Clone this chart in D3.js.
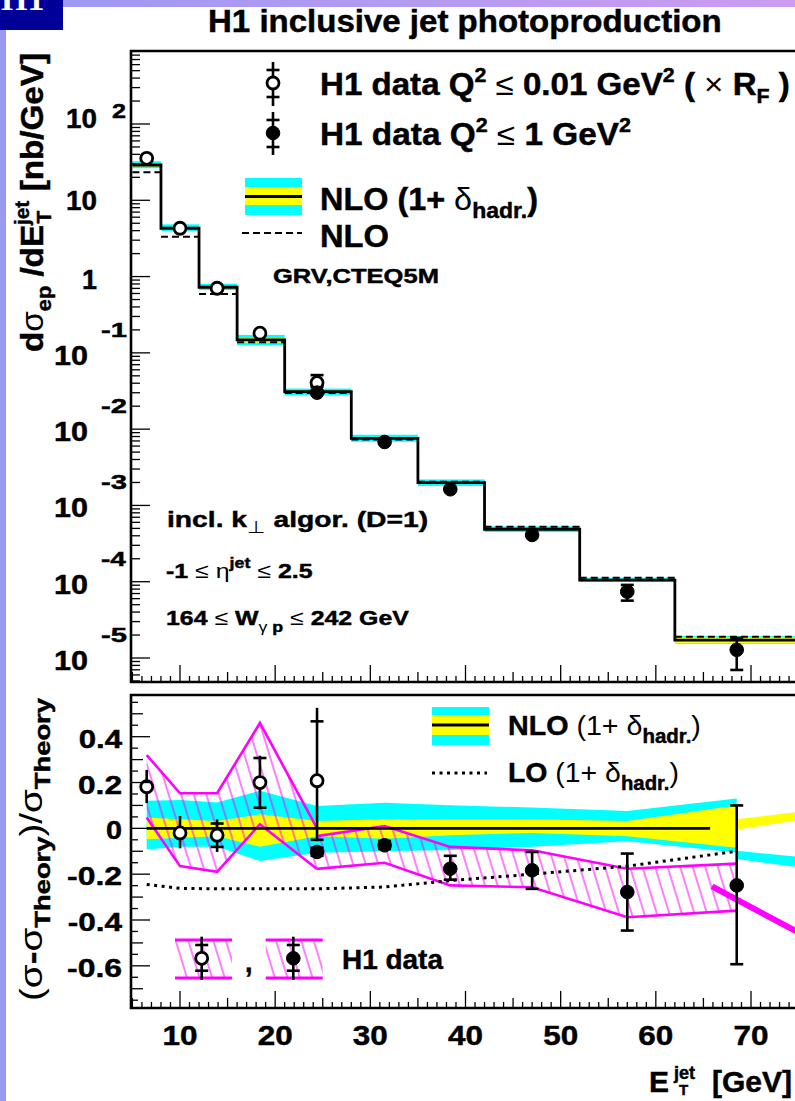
<!DOCTYPE html>
<html>
<head>
<meta charset="utf-8">
<script src="https://cdnjs.cloudflare.com/ajax/libs/d3/7.8.5/d3.min.js"></script>
<style>
  body { margin: 0; background: #fff; }
  text { font-family: "Liberation Sans", Arial, Helvetica, sans-serif; font-weight: bold; fill: #000;
         stroke: #000; stroke-width: 0.45px; }
  tspan.thin { stroke-width: 0; }
</style>
</head>
<body>
<svg id="chart" width="795" height="1101"></svg>
<script>
// ---------- data ----------
const binEdges  = [5, 8, 12, 16, 21, 28, 35, 42, 52, 62, 75];
const nloHadr   = [29.0, 4.30, 0.724, 0.1476, 0.0310, 0.00759, 0.00199, 4.87e-4, 1.05e-4, 1.72e-5];
const nloParton = [23.3, 3.33, 0.591, 0.1377, 0.0298, 0.00733, 0.00205, 5.27e-4, 1.13e-4, 1.90e-5];

// Q2 <= 0.01 (open) and Q2 <= 1 (full) cross sections
const openEt      = [6.5, 10.0, 13.9, 18.4, 24.4];
const openXsec    = [35.5, 4.30, 0.703, 0.181, 0.0407];
const openXsecHi  = [null, null, null, null, 0.0511];
const openXsecLo  = [null, null, null, null, 0.0360];
const fullEt      = [24.4, 31.5, 38.4, 47.0, 57.0, 68.5];
const fullXsec    = [0.0301, 0.00679, 0.00163, 4.10e-4, 7.41e-5, 1.28e-5];
const fullXsecHi  = [null, null, null, null, 9.08e-5, 1.83e-5];
const fullXsecLo  = [null, null, null, null, 5.65e-5, 6.97e-6];

// ratio (sigma - theory)/theory
const openRatio  = [0.182, -0.02, -0.03, 0.20, 0.208];
const openTotHi  = [0.255, 0.054, 0.039, 0.317, 0.526];
const openTotLo  = [0.11, -0.087, -0.103, 0.083, -0.056];
const openStatHi = [null, null, 0.021, 0.307, 0.467];
const openStatLo = [null, null, -0.081, 0.09, -0.05];
const fullRatio  = [-0.103, -0.074, -0.176, -0.183, -0.278, -0.249];
const fullTotHi  = [-0.085, -0.055, -0.12, -0.103, -0.11, 0.10];
const fullTotLo  = [-0.12, -0.09, -0.224, -0.264, -0.446, -0.593];

// theory bands, one value per bin (at the data point E_T)
const bandEt  = [6.5, 10.0, 13.9, 18.4, 24.4, 31.5, 38.4, 47.0, 57.0, 68.5];
const scaleHi = [0.12, 0.124, 0.113, 0.164, 0.098, 0.112, 0.101, 0.091, 0.076, 0.13];
const scaleLo = [-0.092, -0.08, -0.08, -0.143, -0.107, -0.10, -0.095, -0.08, -0.056, -0.105];
const hadrHi  = [0.047, 0.04, 0.032, 0.061, 0.032, 0.04, 0.04, 0.04, 0.032, 0.10];
const hadrLo  = [-0.048, -0.041, -0.034, -0.08, -0.034, -0.045, -0.03, -0.02, -0.034, -0.085];
const loRatio = [-0.245, -0.262, -0.264, -0.264, -0.264, -0.256, -0.228, -0.20, -0.165, -0.10];

// hatched data bands
const sysOpenUp = [0.32, 0.153, 0.153, 0.46, 0.0];
const sysOpenDn = [0.047, -0.165, -0.19, 0.018, -0.177];
const sysFullUp = [-0.034, 0.01, -0.081, -0.096, -0.176, -0.154];
const sysFullDn = [-0.177, -0.15, -0.249, -0.257, -0.388, -0.359];

// stray pieces right of the last point
const tailEt      = [68.5, 75];
const hadrTailHi  = [0.04, 0.072];
const hadrTailLo  = [-0.005, 0.035];
const scaleTailHi = [-0.098, -0.124];
const scaleTailLo = [-0.134, -0.170];
const sysTailEt   = [65.9, 75];
const sysTail     = [-0.253, -0.455];
const zeroLineEt  = [6.5, 65.7];

const topDecades = [2, 1, 0, -1, -2, -3, -4, -5];
const ratioTicks = [0.4, 0.2, 0, -0.2, -0.4, -0.6];
const xTicks     = [10, 20, 30, 40, 50, 60, 70];

// ---------- scales ----------
let svg = d3.select("#chart");
let x = d3.scaleLinear().domain([10, 70]).range([180, 751]);
let yTop = d3.scaleLog().domain([1e-5, 1e2]).range([658, 124]);
let yRat = d3.scaleLinear().domain([-0.4, 0.4]).range([920, 736.7]);

let topBox = {x0: 131, x1: 850, y0: 51, y1: 682};
let ratBox = {x0: 131, x1: 850, y0: 695, y1: 1008};

const CYAN = "#00ffff", YELLOW = "#ffff00", MAG = "#ff00ff";

// ---------- helpers ----------
function richText(g, xx, yy, size, parts) {
  let t = g.append("text").attr("x", xx).attr("y", yy).attr("font-size", size);
  parts.forEach(p => {
    let s = t.append("tspan").text(p.t);
    if (p.fs) s.attr("font-size", p.fs);
    if (p.w) s.attr("font-weight", p.w).attr("class", "thin");
    if (p.dy) s.attr("dy", p.dy);
    if (p.dx) s.attr("dx", p.dx);
  });
  return t;
}

// squeeze/stretch a text horizontally so it covers `width` px, keeping x0 fixed
function fit(t, x0, width) {
  let w = t.node().getBBox().width;
  t.attr("transform", "translate(" + x0 + ",0) scale(" + (width / w) + ",1) translate(" + (-x0) + ",0)");
  return t;
}

function drawPoints(g, pts, ys, open) {
  let sel = g.selectAll(null).data(pts).enter().append("g");
  sel.filter(d => d.hi != null).append("line")
    .attr("x1", d => x(d.x)).attr("x2", d => x(d.x))
    .attr("y1", d => ys(d.hi)).attr("y2", d => ys(d.lo))
    .attr("stroke", "#000").attr("stroke-width", 2.6);
  ["chi", "clo"].forEach(k => {
    sel.filter(d => d[k] != null).append("line")
      .attr("x1", d => x(d.x) - 6.5).attr("x2", d => x(d.x) + 6.5)
      .attr("y1", d => ys(d[k])).attr("y2", d => ys(d[k]))
      .attr("stroke", "#000").attr("stroke-width", 2.6);
  });
  sel.append("circle")
    .attr("cx", d => x(d.x)).attr("cy", d => ys(d.y))
    .attr("r", open ? 6 : 6.8)
    .attr("fill", open ? "#fff" : "#000")
    .attr("stroke", "#000").attr("stroke-width", open ? 2.8 : 1);
}

// ---------- page decoration ----------
let defs = svg.append("defs");
let grad = defs.append("linearGradient").attr("id", "topband");
grad.append("stop").attr("offset", "0").attr("stop-color", "#9a9af0");
grad.append("stop").attr("offset", "1").attr("stop-color", "#cc9cf0");

let hatch = defs.append("pattern").attr("id", "hatch")
  .attr("patternUnits", "userSpaceOnUse").attr("width", 12).attr("height", 12)
  .attr("patternTransform", "rotate(-17)");
hatch.append("line").attr("x1", 1).attr("y1", 0).attr("x2", 1).attr("y2", 12)
  .attr("stroke", MAG).attr("stroke-width", 1);

defs.append("clipPath").attr("id", "clipTop").append("rect")
  .attr("x", topBox.x0).attr("y", topBox.y0)
  .attr("width", topBox.x1 - topBox.x0).attr("height", topBox.y1 - topBox.y0);
defs.append("clipPath").attr("id", "clipRat").append("rect")
  .attr("x", ratBox.x0).attr("y", ratBox.y0)
  .attr("width", ratBox.x1 - ratBox.x0).attr("height", ratBox.y1 - ratBox.y0);

svg.append("rect").attr("x", 0).attr("y", 0).attr("width", 795).attr("height", 7).attr("fill", "url(#topband)");
svg.append("rect").attr("x", 0).attr("y", 0).attr("width", 6).attr("height", 1101).attr("fill", "#9999ee");
svg.append("rect").attr("x", 0).attr("y", 0).attr("width", 63).attr("height", 30).attr("fill", "#000099");
// bottom of the H1 logo lettering (the top is cut off in the original)
svg.append("text").attr("x", 1).attr("y", 10).attr("font-size", 34)
  .style("font-family", "'Liberation Serif', serif").style("fill", "#fff").style("stroke", "none").text("H1");

// title
fit(svg.append("text").attr("x", 208).attr("y", 32).attr("font-size", 31)
  .text("H1 inclusive jet photoproduction"), 208, 514);

// ---------- top panel ----------
let gTop = svg.append("g").attr("clip-path", "url(#clipTop)");
let bins = nloHadr.map((v, i) => ({
  x0: binEdges[i], x1: binEdges[i + 1], v: v, p: nloParton[i],
  shi: scaleHi[i], slo: scaleLo[i], hhi: hadrHi[i], hlo: hadrLo[i]
}));

gTop.selectAll(".cyanbin").data(bins).enter().append("rect")
  .attr("x", d => x(d.x0)).attr("width", d => x(d.x1) - x(d.x0))
  .attr("y", d => yTop(d.v * (1 + d.shi)))
  .attr("height", d => yTop(d.v * (1 + d.slo)) - yTop(d.v * (1 + d.shi)))
  .attr("fill", CYAN);
gTop.selectAll(".yellowbin").data(bins).enter().append("rect")
  .attr("x", d => x(d.x0)).attr("width", d => x(d.x1) - x(d.x0))
  .attr("y", d => yTop(d.v * (1 + d.hhi)))
  .attr("height", d => yTop(d.v * (1 + d.hlo)) - yTop(d.v * (1 + d.hhi)))
  .attr("fill", YELLOW);

let stepPts = [];
bins.forEach(d => { stepPts.push([x(d.x0), yTop(d.v)]); stepPts.push([x(d.x1), yTop(d.v)]); });
gTop.append("path").attr("d", d3.line()(stepPts))
  .attr("fill", "none").attr("stroke", "#000").attr("stroke-width", 2.8);

gTop.selectAll(".dashbin").data(bins).enter().append("line")
  .attr("x1", d => x(d.x0)).attr("x2", d => x(d.x1))
  .attr("y1", d => yTop(d.p)).attr("y2", d => yTop(d.p))
  .attr("stroke", "#000").attr("stroke-width", 2).attr("stroke-dasharray", "7,4");

drawPoints(gTop, openEt.map((e, i) => ({x: e, y: openXsec[i], hi: openXsecHi[i], lo: openXsecLo[i],
  chi: openXsecHi[i], clo: openXsecLo[i]})), yTop, true);
drawPoints(gTop, fullEt.map((e, i) => ({x: e, y: fullXsec[i], hi: fullXsecHi[i], lo: fullXsecLo[i],
  chi: fullXsecHi[i], clo: fullXsecLo[i]})), yTop, false);

// top axes ticks
let axTop = svg.append("g");
let yMin = yTop.invert(topBox.y1), yMax = yTop.invert(topBox.y0);
d3.range(-6, 3).forEach(dec => {
  d3.range(1, 10).forEach(k => {
    let v = k * Math.pow(10, dec);
    if (v < yMin || v > yMax) return;
    axTop.append("line").attr("x1", topBox.x0).attr("x2", topBox.x0 + (k == 1 ? 19 : 9))
      .attr("y1", yTop(v)).attr("y2", yTop(v)).attr("stroke", "#000").attr("stroke-width", 1.3);
  });
});
d3.range(5, 81).forEach(e => {
  let len = e % 10 == 0 ? 17 : (e % 5 == 0 ? 10 : 6);
  [topBox.y1, ratBox.y1].forEach(yb => {
    svg.append("line").attr("x1", x(e)).attr("x2", x(e)).attr("y1", yb).attr("y2", yb - len)
      .attr("stroke", "#000").attr("stroke-width", 1.3);
  });
});

// top y labels
topDecades.forEach(dec => {
  let yt = yTop(Math.pow(10, dec));
  if (dec == 2) {
    fit(axTop.append("text").attr("x", 97).attr("y", yt + 4).attr("font-size", 27)
      .attr("text-anchor", "end").text("10"), 97, 31);
    fit(axTop.append("text").attr("x", 112).attr("y", yt - 6).attr("font-size", 20).text("2"), 112, 14);
  } else if (dec == 1) {
    fit(axTop.append("text").attr("x", 97).attr("y", yt + 10).attr("font-size", 27)
      .attr("text-anchor", "end").text("10"), 97, 31);
  } else if (dec == 0) {
    fit(axTop.append("text").attr("x", 97).attr("y", yt + 12).attr("font-size", 27)
      .attr("text-anchor", "end").text("1"), 97, 15);
  } else {
    fit(axTop.append("text").attr("x", 88).attr("y", yt + 12).attr("font-size", 27)
      .attr("text-anchor", "end").text("10"), 88, 34);
    fit(axTop.append("text").attr("x", 101).attr("y", yt - 16).attr("font-size", 20)
      .text(String(dec)), 101, 26);
  }
});

// top y title (rotated)
let yt1 = svg.append("g").attr("transform", "translate(43,0) rotate(-90)");
fit(richText(yt1, -352, 0, 32, [
  {t: "d"}, {t: "σ", w: "normal"}, {t: "ep", fs: 21, dy: 8}, {t: " /dE", dy: -8},
  {t: "jet", fs: 20, dy: -14}, {t: "T", fs: 20, dx: -22, dy: 22}, {t: " [nb/GeV]", dx: 10, dy: -8}
]), -352, 299);

// top legend
let lg = svg.append("g");
drawPoints(lg, [{x: x.invert(273), y: 83, hi: 62, lo: 106, chi: 70, clo: 97}], d => d, true);
drawPoints(lg, [{x: x.invert(273), y: 133, hi: 112, lo: 155, chi: 120, clo: 147}], d => d, false);
fit(richText(lg, 320, 95, 31, [
  {t: "H1 data Q"}, {t: "2", fs: 20, dy: -13}, {t: " ≤ ", w: "normal", dy: 13}, {t: "0.01 GeV"},
  {t: "2", fs: 20, dy: -13}, {t: " ( ", dy: 13}, {t: "×", w: "normal"}, {t: " R"},
  {t: "F", fs: 20, dy: 8}, {t: " )", dy: -8}
]), 320, 470);
fit(richText(lg, 320, 145, 31, [
  {t: "H1 data Q"}, {t: "2", fs: 20, dy: -13}, {t: " ≤ ", w: "normal", dy: 13}, {t: "1 GeV"},
  {t: "2", fs: 20, dy: -13}
]), 320, 311);
lg.append("rect").attr("x", 245).attr("y", 178).attr("width", 57).attr("height", 37).attr("fill", CYAN);
lg.append("rect").attr("x", 245).attr("y", 187).attr("width", 57).attr("height", 18).attr("fill", YELLOW);
lg.append("line").attr("x1", 245).attr("x2", 302).attr("y1", 196.5).attr("y2", 196.5)
  .attr("stroke", "#000").attr("stroke-width", 2.8);
fit(richText(lg, 320, 210, 31, [
  {t: "NLO (1+ "}, {t: "δ", w: "normal"}, {t: "hadr.", fs: 22, dy: 8}, {t: ")", dy: -8}
]), 320, 218);
lg.append("line").attr("x1", 242).attr("x2", 302).attr("y1", 233).attr("y2", 233)
  .attr("stroke", "#000").attr("stroke-width", 2).attr("stroke-dasharray", "7,4");
fit(lg.append("text").attr("x", 320).attr("y", 247).attr("font-size", 31).text("NLO"), 320, 69);
fit(lg.append("text").attr("x", 273).attr("y", 283).attr("font-size", 20).text("GRV,CTEQ5M"), 273, 166);

fit(richText(lg, 167, 527, 23, [
  {t: "incl. k"}, {t: "⊥", w: "normal", fs: 17, dy: 6}, {t: " algor. (D=1)", dy: -6}
]), 167, 261);
fit(richText(lg, 166, 578, 21, [
  {t: "-1 "}, {t: "≤ η", w: "normal"}, {t: "jet", fs: 15, dy: -10}, {t: " ≤ ", w: "normal", dy: 10},
  {t: "2.5"}
]), 166, 147);
fit(richText(lg, 166, 625, 21, [
  {t: "164 "}, {t: "≤", w: "normal"}, {t: " W"}, {t: "γ", w: "normal", fs: 15, dy: 7},
  {t: " p", fs: 15}, {t: " ", dy: -7}, {t: "≤", w: "normal"}, {t: " 242 GeV"}
]), 166, 243);

// ---------- ratio panel ----------
let gRat = svg.append("g").attr("clip-path", "url(#clipRat)");
let band = bandEt.map((e, i) => ({x: e, shi: scaleHi[i], slo: scaleLo[i], hhi: hadrHi[i], hlo: hadrLo[i], lo: loRatio[i]}));

gRat.append("path").datum(band)
  .attr("d", d3.area().x(d => x(d.x)).y0(d => yRat(d.slo)).y1(d => yRat(d.shi)))
  .attr("fill", CYAN);
gRat.append("path").datum(band)
  .attr("d", d3.area().x(d => x(d.x)).y0(d => yRat(d.hlo)).y1(d => yRat(d.hhi)))
  .attr("fill", YELLOW);

let tail = tailEt.map((e, i) => ({x: e, hhi: hadrTailHi[i], hlo: hadrTailLo[i], shi: scaleTailHi[i], slo: scaleTailLo[i]}));
gRat.append("path").datum(tail)
  .attr("d", d3.area().x(d => x(d.x)).y0(d => yRat(d.slo)).y1(d => yRat(d.shi)))
  .attr("fill", CYAN);
gRat.append("path").datum(tail)
  .attr("d", d3.area().x(d => x(d.x)).y0(d => yRat(d.hlo)).y1(d => yRat(d.hhi)))
  .attr("fill", YELLOW);

let sysBands = [
  openEt.map((e, i) => ({x: e, up: sysOpenUp[i], dn: sysOpenDn[i]})),
  fullEt.map((e, i) => ({x: e, up: sysFullUp[i], dn: sysFullDn[i]}))
];
sysBands.forEach(sb => {
  gRat.append("path").datum(sb)
    .attr("d", d3.area().x(d => x(d.x)).y0(d => yRat(d.dn)).y1(d => yRat(d.up)))
    .attr("fill", "url(#hatch)");
  ["up", "dn"].forEach(k => {
    gRat.append("path").datum(sb)
      .attr("d", d3.line().x(d => x(d.x)).y(d => yRat(d[k])))
      .attr("fill", "none").attr("stroke", MAG).attr("stroke-width", 2.6);
  });
});
gRat.append("path").datum(sysTailEt.map((e, i) => [x(e), yRat(sysTail[i])]))
  .attr("d", d3.line()).attr("stroke", MAG).attr("stroke-width", 6).attr("fill", "none");

gRat.append("line").attr("x1", x(zeroLineEt[0])).attr("x2", x(zeroLineEt[1]))
  .attr("y1", yRat(0)).attr("y2", yRat(0)).attr("stroke", "#000").attr("stroke-width", 2.8);

gRat.append("path").datum(band)
  .attr("d", d3.line().x(d => x(d.x)).y(d => yRat(d.lo)))
  .attr("fill", "none").attr("stroke", "#000").attr("stroke-width", 3).attr("stroke-dasharray", "3,4.5");

drawPoints(gRat, openEt.map((e, i) => ({x: e, y: openRatio[i], hi: openTotHi[i], lo: openTotLo[i],
  chi: openStatHi[i], clo: openStatLo[i]})), yRat, true);
drawPoints(gRat, fullEt.map((e, i) => ({x: e, y: fullRatio[i], hi: fullTotHi[i], lo: fullTotLo[i],
  chi: fullTotHi[i], clo: fullTotLo[i]})), yRat, false);

// ratio y ticks + labels
d3.range(-0.75, 0.56, 0.05).forEach(v => {
  let r = Math.round(v * 100);
  let len = r % 20 == 0 ? 19 : (r % 10 == 0 ? 12 : 7);
  svg.append("line").attr("x1", ratBox.x0).attr("x2", ratBox.x0 + len)
    .attr("y1", yRat(v)).attr("y2", yRat(v)).attr("stroke", "#000").attr("stroke-width", 1.3);
});
ratioTicks.forEach(v => {
  let w = v == 0 ? 16 : (v < 0 ? 55 : 44);
  fit(svg.append("text").attr("x", 122).attr("y", yRat(v) + 11).attr("font-size", 26)
    .attr("text-anchor", "end").text(String(v)), 122, w);
});

// x labels
xTicks.forEach(e => {
  let t = svg.append("text").attr("x", x(e)).attr("y", 1045).attr("font-size", 27)
    .attr("text-anchor", "middle").text(e);
  fit(t, x(e), 35);
});

// x title
svg.append("text").attr("x", 649).attr("y", 1092).attr("font-size", 30).text("E");
svg.append("text").attr("x", 674).attr("y", 1079).attr("font-size", 18).text("jet");
svg.append("text").attr("x", 679).attr("y", 1095).attr("font-size", 15).text("T");
svg.append("text").attr("x", 712).attr("y", 1092).attr("font-size", 30).text("[GeV]");

// ratio y title
let yt2 = svg.append("g").attr("transform", "translate(42,0) rotate(-90)");
fit(richText(yt2, -1001, 0, 31, [
  {t: "(σ", w: "normal"}, {t: "-"}, {t: "σ", w: "normal"}, {t: "Theory", fs: 22, dy: 8},
  {t: ")/σ", w: "normal", dy: -8}, {t: "Theory", fs: 22, dy: 8}
]), -1001, 304);

// ratio legend
let lg2 = svg.append("g");
lg2.append("rect").attr("x", 432).attr("y", 707).attr("width", 57).attr("height", 38).attr("fill", CYAN);
lg2.append("rect").attr("x", 432).attr("y", 715).attr("width", 57).attr("height", 20).attr("fill", YELLOW);
lg2.append("line").attr("x1", 432).attr("x2", 489).attr("y1", 725).attr("y2", 725)
  .attr("stroke", "#000").attr("stroke-width", 2.8);
fit(richText(lg2, 508, 735, 28, [
  {t: "NLO"}, {t: " (1+ ", w: "normal"}, {t: "δ", w: "normal"}, {t: "hadr.", fs: 20, dy: 8},
  {t: ")", w: "normal", dy: -8}
]), 508, 193);
lg2.append("line").attr("x1", 432).attr("x2", 487).attr("y1", 773).attr("y2", 773)
  .attr("stroke", "#000").attr("stroke-width", 3).attr("stroke-dasharray", "3,4.5");
fit(richText(lg2, 508, 782, 28, [
  {t: "LO"}, {t: " (1+ ", w: "normal"}, {t: "δ", w: "normal"}, {t: "hadr.", fs: 20, dy: 8},
  {t: ")", w: "normal", dy: -8}
]), 508, 171);

[[175, 201.7, true], [265.7, 293.3, false]].forEach(b => {
  lg2.append("rect").attr("x", b[0]).attr("y", 940).attr("width", 57).attr("height", 38).attr("fill", "url(#hatch)");
  [940, 978].forEach(yy => lg2.append("line").attr("x1", b[0]).attr("x2", b[0] + 57)
    .attr("y1", yy).attr("y2", yy).attr("stroke", MAG).attr("stroke-width", 3));
  drawPoints(lg2, [{x: x.invert(b[1]), y: 958.3, hi: 936.7, lo: 980, chi: 945, clo: 970.7}], d => d, b[2]);
});
lg2.append("text").attr("x", 245).attr("y", 972).attr("font-size", 27).text(",");
fit(lg2.append("text").attr("x", 342).attr("y", 969).attr("font-size", 27).text("H1 data"), 342, 102);

// ---------- frames ----------
[topBox, ratBox].forEach(b => {
  svg.append("path")
    .attr("d", "M" + b.x1 + "," + b.y0 + "H" + b.x0 + "V" + b.y1 + "H" + b.x1)
    .attr("fill", "none").attr("stroke", "#000").attr("stroke-width", 2.6);
});
</script>
</body>
</html>
